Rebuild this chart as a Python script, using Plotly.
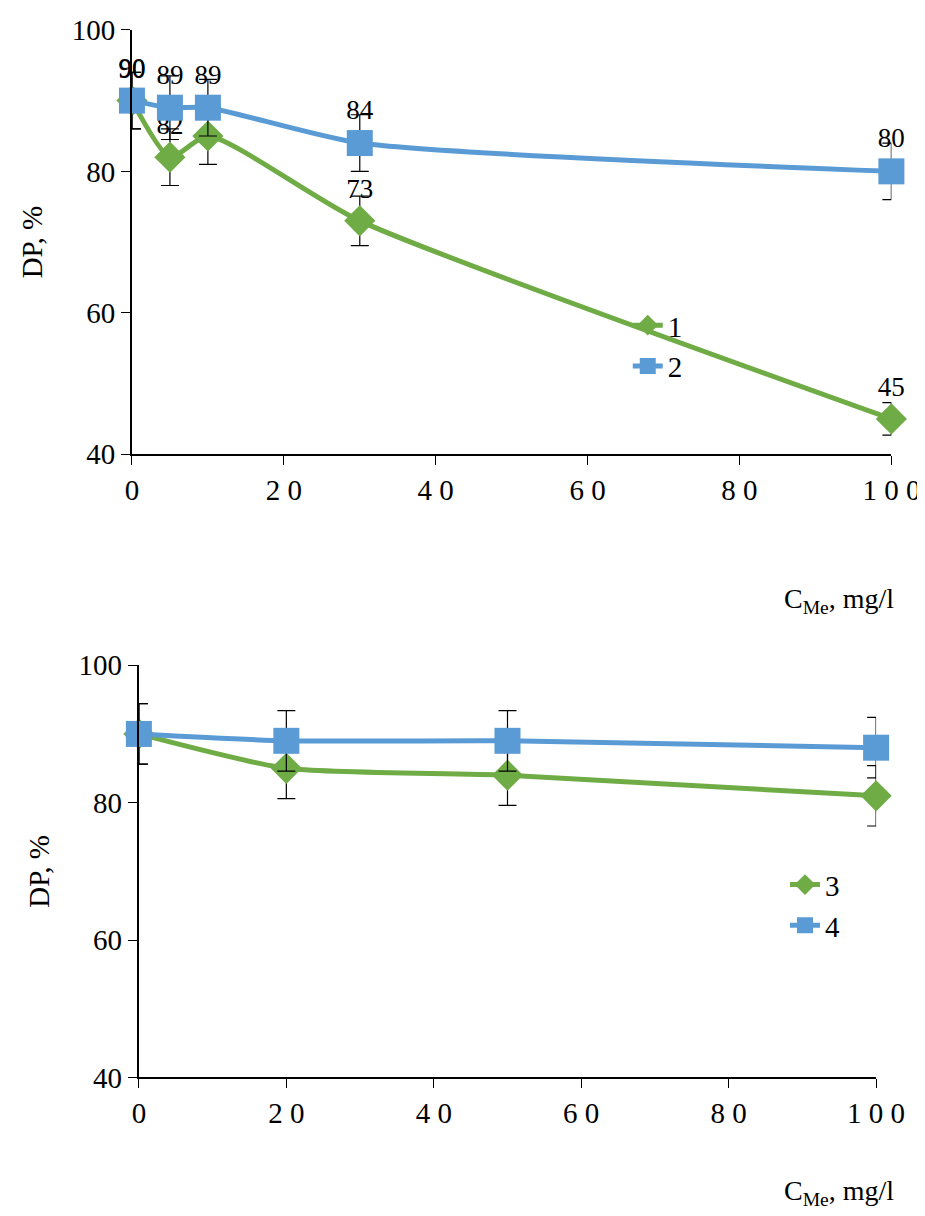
import plotly.graph_objects as go

# top panel
x_top = [0, 5, 10, 30, 100]
dp1 = [90, 82, 85, 73, 45]
dp2 = [90, 89, 89, 84, 80]
err1 = [4, 4, 4, 3.5, 2.3]
err2 = [4, 4.5, 4, 4, 4]

# bottom panel
x_bot = [0, 20, 50, 100]
dp3 = [90, 85, 84, 81]
dp4 = [90, 89, 89, 88]
err3 = [4.4, 4.4, 4.4, 4.4]
err4 = [4.4, 4.4, 4.4, 4.4]

green = "#6FAC46"
blue = "#5B9BD5"
font = "Liberation Serif"

fig = go.Figure()

def add(x, y, err, name, color, symbol, size, xa, ya, leg, labels):
    fig.add_trace(go.Scatter(
        x=x, y=y, name=name, mode="lines+markers+text" if labels else "lines+markers",
        text=[str(v) for v in y] if labels else None, textposition="top center",
        textfont=dict(family=font, size=27, color="black"),
        line=dict(color=color, width=5, shape="spline", smoothing=0.6),
        marker=dict(symbol=symbol, size=size, color=color),
        error_y=dict(type="data", array=err, color="black", thickness=1.2, width=9),
        xaxis=xa, yaxis=ya, legend=leg, cliponaxis=False))

add(x_top, dp1, err1, "1", green, "diamond", 24, "x", "y", "legend", True)
add(x_top, dp2, err2, "2", blue, "square", 26, "x", "y", "legend", True)
add(x_bot, dp3, err3, "3", green, "diamond", 24, "x2", "y2", "legend2", False)
add(x_bot, dp4, err4, "4", blue, "square", 26, "x2", "y2", "legend2", False)

ax = dict(showline=True, linecolor="black", linewidth=2, ticks="outside",
          ticklen=9, tickcolor="black", showgrid=False, zeroline=False, automargin=False,
          tickfont=dict(family=font, size=29, color="black"))
xt = dict(range=[0, 100], tickvals=[0, 20, 40, 60, 80, 100],
          ticktext=["0", "2 0", "4 0", "6 0", "8 0", "1 0 0"])
yt = dict(range=[40, 100], tickvals=[40, 60, 80, 100],
          title=dict(text="DP, %", font=dict(family=font, size=29, color="black"), standoff=20))

fig.update_layout(
    width=925, height=1216, paper_bgcolor="white", plot_bgcolor="white",
    margin=dict(l=0, r=0, t=0, b=0, autoexpand=False), showlegend=True,
    xaxis=dict(domain=[0.134, 0.955], anchor="y", **ax, **xt),
    yaxis=dict(domain=[0.633, 0.982], anchor="x", **ax, **yt),
    xaxis2=dict(domain=[0.1415, 0.9385], anchor="y2", **ax, **xt),
    yaxis2=dict(domain=[0.1205, 0.4595], anchor="x2", **ax, **yt),
    legend=dict(x=0.67, y=0.76, xanchor="left", yanchor="top", bgcolor="rgba(0,0,0,0)",
                font=dict(family=font, size=29, color="black"), tracegroupgap=30),
    legend2=dict(x=0.84, y=0.30, xanchor="left", yanchor="top", bgcolor="rgba(0,0,0,0)",
                 font=dict(family=font, size=29, color="black")),
    annotations=[
        dict(text="C<sub>Me</sub>, mg/l", x=0.96, y=1 - 592 / 1216, xref="paper", yref="paper",
             xanchor="right", yanchor="middle", showarrow=False, font=dict(family=font, size=28, color="black")),
        dict(text="C<sub>Me</sub>, mg/l", x=0.96, y=1 - 1184 / 1216, xref="paper", yref="paper",
             xanchor="right", yanchor="middle", showarrow=False, font=dict(family=font, size=28, color="black")),
    ],
)

fig.write_html("out.html")
